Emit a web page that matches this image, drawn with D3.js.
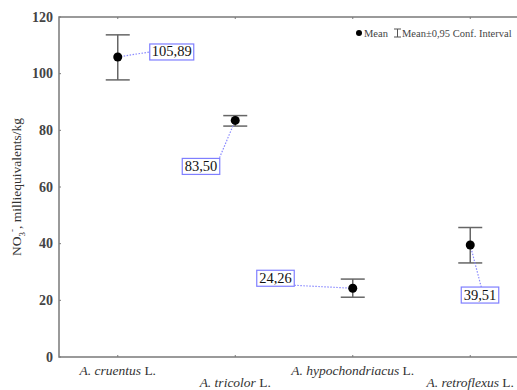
<!DOCTYPE html>
<html>
<head>
<meta charset="utf-8">
<script src="https://cdn.jsdelivr.net/npm/d3@7"></script>
<style>
  body { margin: 0; background: #fff; }
  svg text { font-family: "Liberation Serif", "DejaVu Serif", "Noto Serif", serif; }
</style>
</head>
<body>
<svg></svg>
<script>
// 品种
let species = ['A. cruentus', 'A. tricolor', 'A. hypochondriacus', 'A. retroflexus'];
// 平均值
let means = [105.89, 83.50, 24.26, 39.51];
// 置信区间
let lower = [97.8, 81.5, 21.1, 33.2];
let upper = [113.7, 85.2, 27.5, 45.7];
// 标签文本
let labels = ['105,89', '83,50', '24,26', '39,51'];
// y 轴刻度
let yTicks = [0, 20, 40, 60, 80, 100, 120];

let width = 517;
let height = 390;

let margin = { top: 17, left: 59, right: -12, bottom: 33 };

let svg = d3.select('svg')
    .attr('width', width)
    .attr('height', height);

let x = d3.scaleBand()
    .domain(species)
    .range([margin.left, width - margin.right]);

let y = d3.scaleLinear()
    .domain([0, 120])
    .range([height - margin.bottom, margin.top]);

let cx = d => x(d) + x.bandwidth() / 2;
let axisColor = '#7a7a7a';

// 坐标框
svg.append('path')
    .attr('d', 'M' + (width - margin.right) + ',' + y(120) + 'H' + margin.left + 'V' + y(0) + 'H' + (width - margin.right))
    .attr('fill', 'none')
    .attr('stroke', axisColor)
    .attr('stroke-width', 1.5);

// y 轴刻度
svg.selectAll('.ytick')
    .data(yTicks)
    .enter()
    .append('line')
    .attr('x1', margin.left)
    .attr('x2', margin.left + 2)
    .attr('y1', d => y(d))
    .attr('y2', d => y(d))
    .attr('stroke', axisColor);

svg.selectAll('.ylabel')
    .data(yTicks)
    .enter()
    .append('text')
    .attr('x', 53)
    .attr('y', d => y(d) + 4.5)
    .attr('text-anchor', 'end')
    .attr('font-size', 14)
    .attr('font-weight', 'bold')
    .attr('fill', '#444')
    .text(d => d);

// x 轴刻度（上下）
species.forEach(s => {
    [y(0), y(120)].forEach((yy, i) => {
        svg.append('line')
            .attr('x1', cx(s)).attr('x2', cx(s))
            .attr('y1', yy).attr('y2', i === 0 ? yy - 2 : yy + 2)
            .attr('stroke', axisColor);
    });
});

// x 轴标签，交替上下
let xl = svg.selectAll('.xlabel')
    .data(species)
    .enter()
    .append('text')
    .attr('x', cx)
    .attr('y', (d, i) => i % 2 === 0 ? 375 : 387)
    .attr('text-anchor', 'middle')
    .attr('font-size', 13.5)
    .attr('fill', '#333');
xl.append('tspan').attr('font-style', 'italic').text(d => d);
xl.append('tspan').text(' L.');

// y 轴标题
let yt = svg.append('text')
    .attr('transform', 'translate(21,' + (y(60)) + ') rotate(-90)')
    .attr('text-anchor', 'middle')
    .attr('font-size', 13.5)
    .attr('fill', '#333');
yt.append('tspan').text('NO');
yt.append('tspan').attr('font-size', 9).attr('dy', 4).text('3');
yt.append('tspan').attr('font-size', 9).attr('dy', -10).text('-');
yt.append('tspan').attr('dy', 6).text(', milliequivalents/kg');

// 误差线
let err = svg.selectAll('.err')
    .data(species)
    .enter()
    .append('g')
    .attr('stroke', '#666')
    .attr('stroke-width', 1.5);
err.append('line')
    .attr('x1', cx).attr('x2', cx)
    .attr('y1', (d, i) => y(lower[i]))
    .attr('y2', (d, i) => y(upper[i]));
err.append('line')
    .attr('x1', d => cx(d) - 12).attr('x2', d => cx(d) + 12)
    .attr('y1', (d, i) => y(lower[i])).attr('y2', (d, i) => y(lower[i]));
err.append('line')
    .attr('x1', d => cx(d) - 12).attr('x2', d => cx(d) + 12)
    .attr('y1', (d, i) => y(upper[i])).attr('y2', (d, i) => y(upper[i]));

// 标签框位置（相对点的偏移）
let boxOffsets = [[32, -13], [-53, 38], [-96, -18], [-9, 42]];
let lineEnds = [[32, -5], [-16, 38], [-59, -3], [11, 42]];

// 引导虚线
svg.selectAll('.lead')
    .data(species)
    .enter()
    .append('line')
    .attr('x1', cx)
    .attr('y1', (d, i) => y(means[i]))
    .attr('x2', (d, i) => cx(d) + lineEnds[i][0])
    .attr('y2', (d, i) => y(means[i]) + lineEnds[i][1])
    .attr('stroke', '#8a8aff')
    .attr('stroke-width', 1.2)
    .attr('stroke-dasharray', '1.5,1.5');

// 平均值点
svg.selectAll('.dot')
    .data(species)
    .enter()
    .append('circle')
    .attr('cx', cx)
    .attr('cy', (d, i) => y(means[i]))
    .attr('r', 4.5)
    .attr('fill', '#000');

// 标签框
let lab = svg.selectAll('.lab')
    .data(species)
    .enter()
    .append('g')
    .attr('transform', (d, i) => 'translate(' + (cx(d) + boxOffsets[i][0]) + ',' + (y(means[i]) + boxOffsets[i][1]) + ')');
lab.append('rect')
    .attr('width', (d, i) => labels[i].length === 6 ? 44 : 37.5)
    .attr('height', 16)
    .attr('fill', '#fff')
    .attr('stroke', '#7f7fff')
    .attr('stroke-width', 1.2);
lab.append('text')
    .attr('x', (d, i) => (labels[i].length === 6 ? 44 : 37.5) / 2)
    .attr('y', 12.5)
    .attr('text-anchor', 'middle')
    .attr('font-size', 14.5)
    .attr('fill', '#111')
    .text((d, i) => labels[i]);

// 图例
let leg = svg.append('g').attr('transform', 'translate(359,33)');
leg.append('circle').attr('r', 3).attr('fill', '#000');
leg.append('text').attr('x', 5).attr('y', 3.5).attr('font-size', 10.5).attr('fill', '#444').text('Mean');
leg.append('path')
    .attr('d', 'M35,-4H42M38.5,-4V4M35,4H42')
    .attr('stroke', '#555')
    .attr('fill', 'none');
leg.append('text').attr('x', 43).attr('y', 3.5).attr('font-size', 10.5).attr('fill', '#444').text('Mean±0,95 Conf. Interval');
</script>
</body>
</html>
